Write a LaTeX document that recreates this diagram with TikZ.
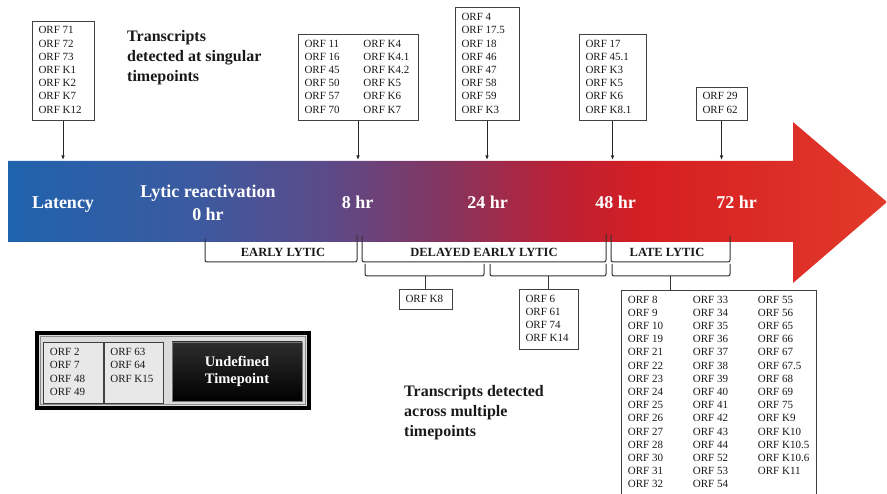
\documentclass[tikz,border=0pt]{standalone}
\usepackage{fontspec}
\setmainfont{Liberation Serif}
\usepackage{xcolor}
\usetikzlibrary{positioning,arrows.meta,calc}

\definecolor{tlA}{HTML}{1F63AD}
\definecolor{tlB}{HTML}{3B5AA0}
\definecolor{tlC}{HTML}{5C4A88}
\definecolor{tlD}{HTML}{85355F}
\definecolor{tlE}{HTML}{BC2034}
\definecolor{tlF}{HTML}{D61F22}
\definecolor{tlG}{HTML}{E2392A}
\pgfdeclarehorizontalshading{timeline}{100bp}{color(0bp)=(tlA); color(25bp)=(tlA);
  color(35.4bp)=(tlB); color(43.3bp)=(tlC); color(49.9bp)=(tlD); color(56.4bp)=(tlE);
  color(61.5bp)=(tlF); color(75bp)=(tlG); color(100bp)=(tlG)}

\begin{document}
\begin{tikzpicture}[
  x=1pt, y=-1pt,
  every node/.style={text=black!90},
  orfbox/.style={rectangle, draw=black!75, line width=0.9pt, fill=white, inner xsep=6.5pt, inner ysep=3.5pt, font=\fontsize{11}{13.2}\selectfont},
  greybox/.style={orfbox, fill=black!9, minimum height=61pt, inner ysep=4pt},
  heading/.style={align=left, inner sep=0pt, font=\bfseries\fontsize{16}{20}\selectfont},
  hour/.style={text=white, inner sep=0pt, anchor=base, font=\bfseries\fontsize{18}{23}\selectfont},
  phase/.style={inner sep=0pt, anchor=base, font=\bfseries\fontsize{12.5}{15}\selectfont},
  brace/.style={draw=black!80, line width=1pt, rounded corners=2pt},
  tickarrow/.style={draw=black!85, line width=0.9pt, -{Latex[length=4.5pt,width=3.5pt]}},
]
  \useasboundingbox (0,0) rectangle (887,494);

  % time arrow
  \path[shading=timeline] (8,161) -- (793,161) -- (793,122) -- (887,202) -- (793,283) -- (793,242) -- (8,242) -- cycle;
  \node[hour] (latency) at (63,209) {Latency};
  \node[hour, anchor=north, align=center] (lytic) at (208,184.5) {Lytic reactivation\\0 hr};
  \node[hour] (h8) at (357.5,209) {8 hr};
  \node[hour] (h24) at (487.5,209) {24 hr};
  \node[hour] (h48) at (615.5,209) {48 hr};
  \node[hour] (h72) at (736.5,209) {72 hr};

  % singular timepoints
  \node[heading, anchor=north west] (single) at (127,30.5) {Transcripts\\detected at singular\\timepoints};
  \node[orfbox, anchor=south] (latbox) at (63,121) {\begin{tabular}{@{}p{49pt}@{}}
    ORF 71\\ ORF 72\\ ORF 73\\ ORF K1\\ ORF K2\\ ORF K7\\ ORF K12\end{tabular}};
  \node[orfbox, anchor=south] (hr8box) at (358,121) {\begin{tabular}{@{}p{59pt}@{}p{48pt}@{}}
    ORF 11 & ORF K4\\ ORF 16 & ORF K4.1\\ ORF 45 & ORF K4.2\\
    ORF 50 & ORF K5\\ ORF 57 & ORF K6\\ ORF 70 & ORF K7\end{tabular}};
  \node[orfbox, anchor=south] (hr24box) at (487,121) {\begin{tabular}{@{}p{51pt}@{}}
    ORF 4\\ ORF 17.5\\ ORF 18\\ ORF 46\\ ORF 47\\ ORF 58\\ ORF 59\\ ORF K3\end{tabular}};
  \node[orfbox, anchor=south] (hr48box) at (612.5,121) {\begin{tabular}{@{}p{54pt}@{}}
    ORF 17\\ ORF 45.1\\ ORF K3\\ ORF K5\\ ORF K6\\ ORF K8.1\end{tabular}};
  \node[orfbox, anchor=south] (hr72box) at (721.5,121) {\begin{tabular}{@{}p{38pt}@{}}
    ORF 29\\ ORF 62\end{tabular}};

  \coordinate (tLat) at (63,160);
  \coordinate (t8) at (358,160);
  \coordinate (t24) at (487,160);
  \coordinate (t48) at (612.5,160);
  \coordinate (t72) at (721.5,160);
  \draw[tickarrow] (latbox) -- (tLat);
  \draw[tickarrow] (hr8box) -- (t8);
  \draw[tickarrow] (hr24box) -- (t24);
  \draw[tickarrow] (hr48box) -- (t48);
  \draw[tickarrow] (hr72box) -- (t72);

  % phases
  \draw[brace] (205,239) -- (205,262) -- (357,262) -- (357,235);
  \draw[brace] (362,236) -- (362,262) -- (606,262) -- (606,234);
  \draw[brace] (611,235) -- (611,262) -- (730,262) -- (730,236);
  \node[phase] (early) at (283,257) {EARLY LYTIC};
  \node[phase] (delayed) at (484,257) {DELAYED EARLY LYTIC};
  \node[phase] (late) at (667,257) {LATE LYTIC};

  \draw[brace] (365,264) -- (365,276) -- (484,276) -- (484,264);
  \draw[brace] (490,264) -- (490,276) -- (606,276) -- (606,264);
  \draw[brace] (612,264) -- (612,276) -- (730,276) -- (730,264);
  \coordinate (sK8) at (425.5,276);
  \coordinate (sSix) at (548.5,276);
  \coordinate (sLate) at (670,276);

  % multiple timepoints
  \node[orfbox, anchor=north] (k8box) at (425.5,289) {\begin{tabular}{@{}p{40pt}@{}}ORF K8\end{tabular}};
  \node[orfbox, anchor=north] (sixbox) at (548.5,289) {\begin{tabular}{@{}p{46pt}@{}}
    ORF 6\\ ORF 61\\ ORF 74\\ ORF K14\end{tabular}};
  \node[orfbox, anchor=north west] (latebox) at (621,290) {\begin{tabular}{@{}p{65pt}@{}p{65pt}@{}l@{\hspace{1pt}}}
    ORF 8 & ORF 33 & ORF 55\\ ORF 9 & ORF 34 & ORF 56\\ ORF 10 & ORF 35 & ORF 65\\
    ORF 19 & ORF 36 & ORF 66\\ ORF 21 & ORF 37 & ORF 67\\ ORF 22 & ORF 38 & ORF 67.5\\
    ORF 23 & ORF 39 & ORF 68\\ ORF 24 & ORF 40 & ORF 69\\ ORF 25 & ORF 41 & ORF 75\\
    ORF 26 & ORF 42 & ORF K9\\ ORF 27 & ORF 43 & ORF K10\\ ORF 28 & ORF 44 & ORF K10.5\\
    ORF 30 & ORF 52 & ORF K10.6\\ ORF 31 & ORF 53 & ORF K11\\ ORF 32 & ORF 54 & \end{tabular}};
  \draw[brace] (sK8) -- (k8box);
  \draw[brace] (sSix) -- (sixbox);
  \draw[brace] (sLate) -- (sLate |- latebox.north);
  \node[heading, anchor=north west] (multiple) at (404,385) {Transcripts detected\\across multiple\\timepoints};

  % undefined timepoint
  \draw[line width=3.5pt, fill=black!14] (37,333) rectangle (309,408);
  \draw[black!45, line width=0.6pt] (40.5,336.5) rectangle (305.5,404.5);
  \node[greybox, anchor=north west] (undefA) at (43,342) {\begin{tabular}{@{}p{47pt}@{}}
    ORF 2\\ ORF 7\\ ORF 48\\ ORF 49\end{tabular}};
  \node[greybox, anchor=north west, inner xsep=6pt] (undefB) at (undefA.north east) {\begin{tabular}{@{}p{47pt}@{}}
    ORF 63\\ ORF 64\\ ORF K15\\ \mbox{}\end{tabular}};
  \node[draw=black!55, line width=0.8pt, top color=black!82, bottom color=black, minimum width=130pt, minimum height=59pt,
    text=white, align=center, font=\bfseries\fontsize{14.5}{17}\selectfont] (undef) at (237,371.5) {Undefined\\Timepoint};
\end{tikzpicture}
\end{document}
